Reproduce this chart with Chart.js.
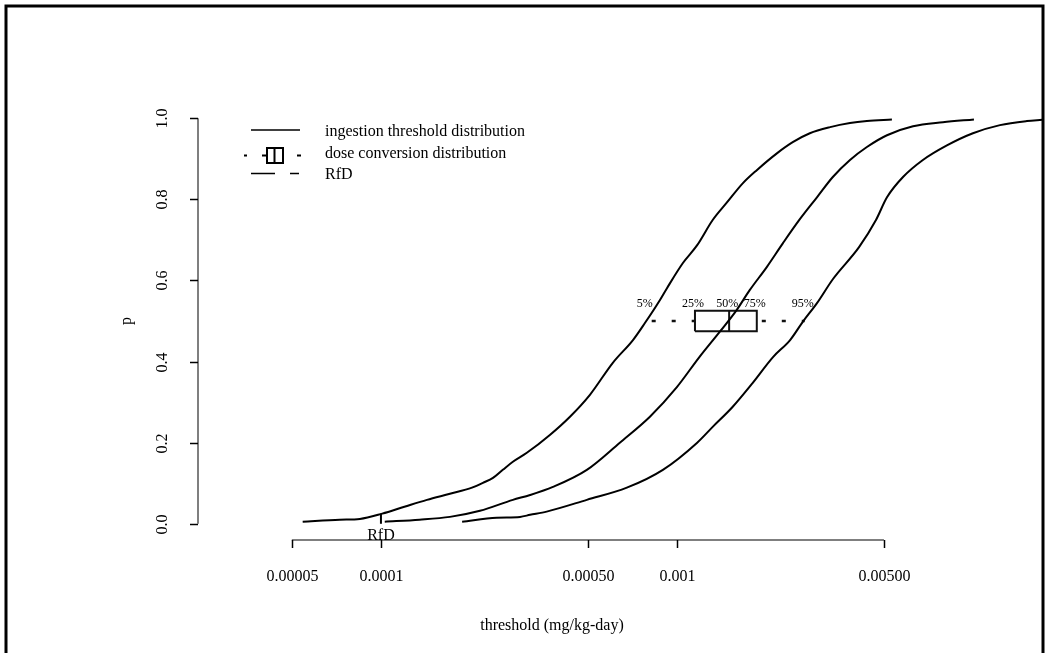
<!DOCTYPE html>
<html>
<head>
<meta charset="utf-8">
<script src="https://cdn.jsdelivr.net/npm/chart.js@4"></script>
<style>
html, body { margin: 0; padding: 0; background: #fff; }
</style>
</head>
<body>
<canvas id="thresholdChart" width="1047" height="653"></canvas>
<script>
// ingestion threshold distribution, one curve per dose conversion quantile
var lowX = [5.44e-5, 7.26e-5, 8.49e-5, 1.01e-4, 1.20e-4, 1.43e-4, 1.71e-4, 2.03e-4, 2.21e-4, 2.39e-4, 2.58e-4, 2.79e-4, 3.11e-4, 3.72e-4, 4.35e-4, 5.08e-4, 6.07e-4, 7.10e-4, 7.79e-4, 8.76e-4, 9.25e-4, 1.047e-3, 1.17e-3, 1.32e-3, 1.47e-3, 1.67e-3, 1.86e-3, 2.18e-3, 2.46e-3, 2.81e-3, 3.29e-3, 3.84e-3, 4.38e-3, 5.32e-3];
var lowP = [0.005, 0.010, 0.012, 0.025, 0.042, 0.059, 0.074, 0.089, 0.101, 0.113, 0.133, 0.153, 0.175, 0.219, 0.264, 0.318, 0.397, 0.453, 0.495, 0.552, 0.581, 0.643, 0.687, 0.749, 0.791, 0.840, 0.872, 0.914, 0.941, 0.963, 0.978, 0.988, 0.993, 0.997];

var midX = [1.03e-4, 1.35e-4, 1.71e-4, 2.16e-4, 2.79e-4, 3.19e-4, 3.81e-4, 4.96e-4, 6.41e-4, 8.10e-4, 9.99e-4, 1.19e-3, 1.40e-3, 1.59e-3, 1.76e-3, 2.01e-3, 2.28e-3, 2.60e-3, 2.97e-3, 3.36e-3, 3.84e-3, 4.38e-3, 5.12e-3, 6.27e-3, 7.91e-3, 1.007e-2];
var midP = [0.005, 0.010, 0.017, 0.032, 0.059, 0.071, 0.091, 0.133, 0.200, 0.264, 0.337, 0.411, 0.475, 0.527, 0.576, 0.633, 0.692, 0.751, 0.805, 0.855, 0.897, 0.929, 0.958, 0.980, 0.990, 0.997];

var highX = [1.88e-4, 2.46e-4, 2.95e-4, 3.19e-4, 3.63e-4, 4.96e-4, 6.77e-4, 8.96e-4, 1.17e-3, 1.32e-3, 1.54e-3, 1.80e-3, 2.11e-3, 2.41e-3, 2.66e-3, 2.97e-3, 3.36e-3, 4.12e-3, 4.70e-3, 5.12e-3, 5.80e-3, 6.77e-3, 8.16e-3, 9.99e-3, 1.233e-2, 1.52e-2, 1.71e-2];
var highP = [0.005, 0.015, 0.017, 0.022, 0.030, 0.059, 0.089, 0.133, 0.200, 0.239, 0.288, 0.347, 0.411, 0.453, 0.498, 0.544, 0.603, 0.682, 0.749, 0.805, 0.855, 0.897, 0.933, 0.963, 0.983, 0.993, 0.996];

// dose conversion distribution (5, 25, 50, 75, 95 %)
var doseQuantiles = [7.9e-4, 1.15e-3, 1.5e-3, 1.86e-3, 2.7e-3];
var doseLabels = ['5%', '25%', '50%', '75%', '95%'];
var boxP = 0.5;

var rfdValue = 0.0001;
var rfdP = [0, 0.025];

var xTicks = [0.00005, 0.0001, 0.0005, 0.001, 0.005];
var xTickLabels = ['0.00005', '0.0001', '0.00050', '0.001', '0.00500'];
var yTicks = [0, 0.2, 0.4, 0.6, 0.8, 1.0];
var yTickLabels = ['0.0', '0.2', '0.4', '0.6', '0.8', '1.0'];
var legendLabels = ['ingestion threshold distribution', 'dose conversion distribution', 'RfD'];

var serif = '"Liberation Serif", "Times New Roman", serif';

function pairs(xs, ys) {
    return xs.map(function (x, i) { return { x: x, y: ys[i] }; });
}

function curve(xs, ys) {
    return {
        data: pairs(xs, ys),
        borderColor: '#000',
        borderWidth: 2,
        pointRadius: 0,
        showLine: true,
        cubicInterpolationMode: 'monotone'
    };
}

var q = doseQuantiles;
var half = 0.025;

var datasets = [
    curve(lowX, lowP),
    curve(midX, midP),
    curve(highX, highP),
    // box
    {
        data: [{ x: q[1], y: boxP - half }, { x: q[3], y: boxP - half }, { x: q[3], y: boxP + half },
               { x: q[1], y: boxP + half }, { x: q[1], y: boxP - half }],
        borderColor: '#111', borderWidth: 2, pointRadius: 0, showLine: true
    },
    // median
    {
        data: [{ x: q[2], y: boxP - half }, { x: q[2], y: boxP + half }],
        borderColor: '#111', borderWidth: 2, pointRadius: 0, showLine: true
    },
    // whiskers
    {
        data: [{ x: q[0], y: boxP }, { x: q[1], y: boxP }],
        borderColor: '#111', borderWidth: 2.5, borderDash: [4, 16], borderDashOffset: 15,
        pointRadius: 0, showLine: true
    },
    {
        data: [{ x: q[3], y: boxP }, { x: q[4], y: boxP }],
        borderColor: '#111', borderWidth: 2.5, borderDash: [4, 16], borderDashOffset: 15,
        pointRadius: 0, showLine: true
    },
    // RfD mark
    {
        data: [{ x: rfdValue, y: rfdP[0] }, { x: rfdValue, y: rfdP[1] }],
        borderColor: '#000', borderWidth: 2, pointRadius: 0, showLine: true
    }
];

// R-style axes, labels and legend
var rDecor = {
    id: 'rDecor',
    afterDraw: function (chart) {
        var c = chart.ctx;
        var xs = chart.scales.x, ys = chart.scales.y;
        var area = chart.chartArea;
        c.save();

        // frame
        c.strokeStyle = '#000';
        c.lineWidth = 3;
        c.strokeRect(6, 6, 1037, 700);

        c.fillStyle = '#000';
        c.font = '16px ' + serif;

        // x axis
        var xb = area.bottom;
        c.strokeStyle = '#555';
        c.lineWidth = 1.5;
        c.beginPath();
        c.moveTo(xs.getPixelForValue(xTicks[0]), xb);
        c.lineTo(xs.getPixelForValue(xTicks[xTicks.length - 1]), xb);
        c.stroke();
        c.strokeStyle = '#000';
        c.textAlign = 'center';
        c.textBaseline = 'middle';
        xTicks.forEach(function (v, i) {
            var px = Math.round(xs.getPixelForValue(v)) + 0.5;
            c.beginPath();
            c.moveTo(px, xb);
            c.lineTo(px, xb + 8);
            c.stroke();
            c.fillText(xTickLabels[i], px, xb + 37);
        });
        c.fillText('threshold (mg/kg-day)', area.left + 354, xb + 86);

        // y axis
        var yl = area.left;
        c.strokeStyle = '#555';
        c.beginPath();
        c.moveTo(yl, ys.getPixelForValue(yTicks[0]));
        c.lineTo(yl, ys.getPixelForValue(yTicks[yTicks.length - 1]));
        c.stroke();
        c.strokeStyle = '#000';
        yTicks.forEach(function (v, i) {
            var py = Math.round(ys.getPixelForValue(v)) + 0.5;
            c.beginPath();
            c.moveTo(yl, py);
            c.lineTo(yl - 8, py);
            c.stroke();
            c.save();
            c.translate(yl - 35, py);
            c.rotate(-Math.PI / 2);
            c.fillText(yTickLabels[i], 0, 0);
            c.restore();
        });
        c.save();
        c.translate(yl - 71, (area.top + area.bottom) / 2);
        c.rotate(-Math.PI / 2);
        c.fillText('p', 0, 0);
        c.restore();

        // RfD label
        c.fillText('RfD', xs.getPixelForValue(rfdValue), ys.getPixelForValue(rfdP[0]) + 12);

        // quantile labels
        c.font = '12px ' + serif;
        var ly = ys.getPixelForValue(boxP) - 17;
        doseLabels.forEach(function (t, i) {
            c.fillText(t, xs.getPixelForValue(doseQuantiles[i]) - 2, ly);
        });

        // legend
        c.font = '16px ' + serif;
        c.textAlign = 'left';
        var lx = 325, rows = [132, 154, 175];
        legendLabels.forEach(function (t, i) {
            c.fillText(t, lx, rows[i]);
        });
        c.lineWidth = 1.5;
        c.beginPath();
        c.moveTo(251, 130); c.lineTo(300, 130);
        c.stroke();
        // box glyph
        c.lineWidth = 2;
        c.strokeRect(267, 148, 16, 15);
        c.beginPath();
        c.moveTo(274.5, 148); c.lineTo(274.5, 163);
        c.moveTo(262, 155.5); c.lineTo(267, 155.5);
        c.moveTo(244, 155.5); c.lineTo(247, 155.5);
        c.moveTo(297, 155.5); c.lineTo(301, 155.5);
        c.stroke();
        // RfD glyph
        c.lineWidth = 1.5;
        c.beginPath();
        c.moveTo(251, 173.5); c.lineTo(275, 173.5);
        c.moveTo(290, 173.5); c.lineTo(299, 173.5);
        c.stroke();

        c.restore();
    }
};

var ctx = document.getElementById('thresholdChart').getContext('2d');

var thresholdChart = new Chart(ctx, {
    type: 'scatter',
    data: { datasets: datasets },
    options: {
        responsive: false,
        animation: false,
        layout: { padding: { left: 198, right: 2, top: 102, bottom: 113 } },
        plugins: { legend: { display: false }, tooltip: { enabled: false } },
        scales: {
            x: { type: 'logarithmic', min: 2.41e-5, max: 1.75e-2, display: false },
            y: { type: 'linear', min: -0.04, max: 1.04, display: false }
        }
    },
    plugins: [rDecor]
});
</script>
</body>
</html>
